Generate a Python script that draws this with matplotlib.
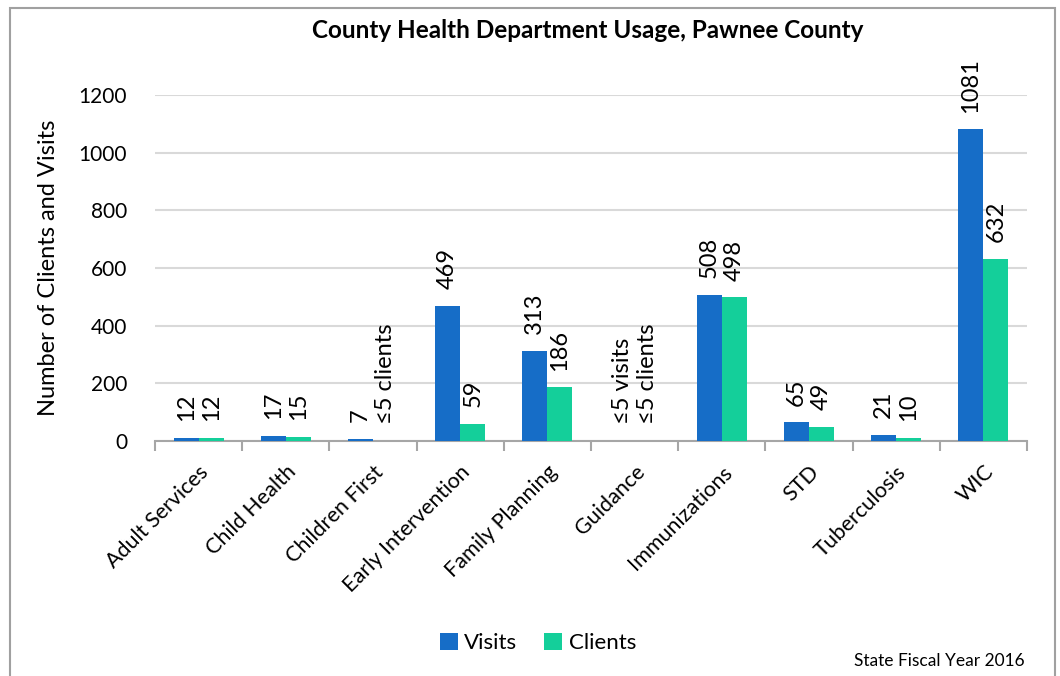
import numpy as np
import matplotlib
matplotlib.use("Agg")
import matplotlib.pyplot as plt
from matplotlib.patches import Rectangle

plt.rcParams['font.family'] = ['Lato', 'DejaVu Sans']

# data (None = suppressed, shown as "≤5")
categories = ["Adult Services", "Child Health", "Children First", "Early Intervention",
              "Family Planning", "Guidance", "Immunizations", "STD", "Tuberculosis", "WIC"]
visits = [12, 17, 7, 469, 313, None, 508, 65, 21, 1081]
clients = [12, 15, None, 59, 186, None, 498, 49, 10, 632]
yticks = [0, 200, 400, 600, 800, 1000, 1200]

visit_color = "#166DC7"
client_color = "#14CF9A"
grid_color = "#D9D9D9"
axis_color = "#A6A6A6"

fig = plt.figure(figsize=(10.6, 6.76), dpi=100)
ax = fig.add_axes([155 / 1060, 1 - 441 / 676, 872 / 1060, 346 / 676])

x = np.arange(len(categories))
w = 0.287

v_h = [0 if v is None else v for v in visits]
c_h = [0 if c is None else c for c in clients]

ax.bar(x - w / 2, v_h, w, color=visit_color, label="Visits", zorder=3)
ax.bar(x + w / 2, c_h, w, color=client_color, label="Clients", zorder=3)

# data labels, rotated like the original
for xi, v in zip(x - w / 2, visits):
    txt = "≤5 visits" if v is None else str(v)
    ax.annotate(txt, (xi, 0 if v is None else v), xytext=(0, 12), textcoords="offset points",
                rotation=90, ha="center", va="bottom", fontsize=17)
for xi, c in zip(x + w / 2, clients):
    txt = "≤5 clients" if c is None else str(c)
    ax.annotate(txt, (xi, 0 if c is None else c), xytext=(0, 12), textcoords="offset points",
                rotation=90, ha="center", va="bottom", fontsize=17)

ax.set_xlim(-0.5, len(categories) - 0.5)
ax.set_ylim(0, 1200)
ax.set_yticks(yticks)
ax.tick_params(axis="y", length=0, labelsize=15, pad=20)
ax.yaxis.grid(True, color=grid_color, linewidth=1.5, zorder=0)
ax.set_axisbelow(True)

ax.set_xticks(x)
ax.set_xticklabels(categories, rotation=45, ha="right", rotation_mode="anchor", fontsize=15.5)
ax.tick_params(axis="x", which="major", length=0, pad=15)
ax.set_xticks(np.arange(len(categories) + 1) - 0.5, minor=True)
ax.tick_params(axis="x", which="minor", length=7, width=1.5, color=axis_color, direction="out")

for s in ["top", "right", "left"]:
    ax.spines[s].set_visible(False)
ax.spines["bottom"].set_color(axis_color)
ax.spines["bottom"].set_linewidth(1.5)

ax.set_ylabel("Number of Clients and Visits", fontsize=17, labelpad=14)

fig.text(588 / 1060, 1 - 31 / 676, "County Health Department Usage, Pawnee County",
         ha="center", va="center", fontsize=17.5, fontweight="bold")

fig.legend(loc="center", bbox_to_anchor=(538 / 1060, 1 - 643 / 676), ncol=2, frameon=False,
           fontsize=16, handlelength=0.8, handleheight=0.8, handletextpad=0.3, columnspacing=1.2)

fig.text(1025 / 1060, 1 - 661 / 676, "State Fiscal Year 2016", ha="right", va="center", fontsize=12.5)

fig.patches.append(Rectangle((10 / 1060, -0.05), 1045 / 1060, 1 - 8 / 676 + 0.05,
                             transform=fig.transFigure, fill=False, edgecolor="#A0A0A0", linewidth=1.5))

fig.savefig("out.png", dpi=100)
